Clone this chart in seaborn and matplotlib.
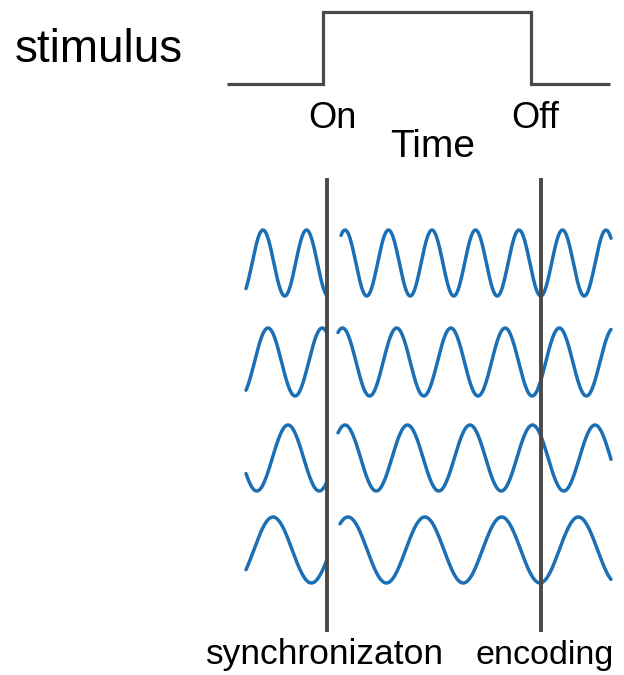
import numpy as np
import pandas as pd
import matplotlib.pyplot as plt
import seaborn as sns

sns.set_style("white")
plt.rcParams['font.family'] = ['Liberation Sans', 'DejaVu Sans']

# stimulus trace (horizontal = time, vertical = figure rows, top-down)
stim_x = [227, 323, 323, 531, 531, 610]
stim_y = [84, 84, 12, 12, 84, 84]

# oscillators: one row each
row_center = [263, 362, 458, 550]
row_amp = [33, 34, 33, 33]
row_period = [43.5, 54.2, 62.5, 76.8]
pre_start = 246
pre_peak = [263, 268, 288, 273]       # phases before the reset
post_start = [341, 338, 338, 340]
post_peak = [345, 342.5, 345, 348]    # phases after the reset
wave_end = 611

sync_x = 327
enc_x = 541
marker_top, marker_bottom = 178, 632

rows = []
for i in range(len(row_center)):
    for seg, t0, t1, pk in [("pre", pre_start, sync_x, pre_peak[i]),
                            ("post", post_start[i], wave_end, post_peak[i])]:
        t = np.linspace(t0, t1, 300)
        y = row_center[i] - row_amp[i] * np.cos(2 * np.pi * (t - pk) / row_period[i])
        rows.append(pd.DataFrame({"t": t, "y": y, "seg": f"{i}-{seg}"}))
waves = pd.concat(rows, ignore_index=True)

fig = plt.figure(figsize=(6.24, 6.75), dpi=100)
ax = fig.add_axes([0, 0, 1, 1])

sns.lineplot(data=waves, x="t", y="y", units="seg", estimator=None, sort=False,
             color="#1b6fb5", lw=2.5, ax=ax, legend=False)

ax.plot(stim_x, stim_y, color="#4b4846", lw=2.3, solid_joinstyle="miter",
        solid_capstyle="butt")
ax.vlines([sync_x, enc_x], marker_top, marker_bottom, color="#4b4846", lw=2.8)

txt = dict(color="black", va="baseline")
ax.text(15, 62, "stimulus", fontsize=33, ha="left", **txt)
ax.text(332, 128, "On", fontsize=26, ha="center", **txt)
ax.text(535, 128, "Off", fontsize=26, ha="center", **txt)
ax.text(433, 157, "Time", fontsize=28, ha="center", **txt)
ax.text(324.5, 664, "synchronizaton", fontsize=25.5, ha="center", **txt)
ax.text(545, 664, "encoding", fontsize=24.5, ha="center", **txt)

ax.set_xlim(0, 624)
ax.set_ylim(675, 0)
ax.axis("off")

fig.savefig("out.png", dpi=100)
